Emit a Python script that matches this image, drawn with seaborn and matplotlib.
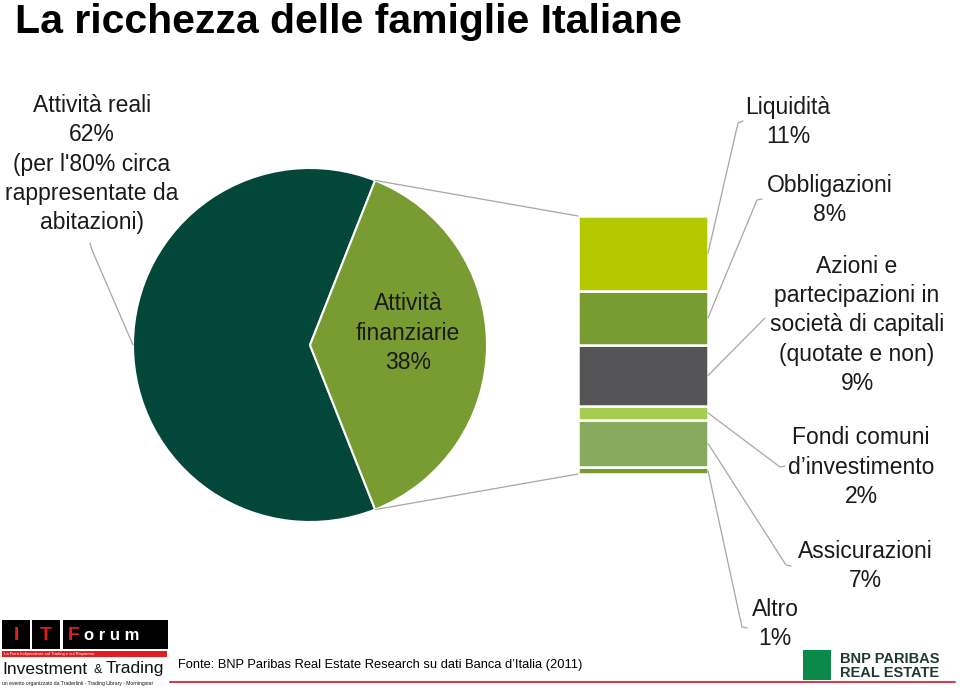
import numpy as np
import matplotlib
matplotlib.use("Agg")
import matplotlib.pyplot as plt
import seaborn as sns
from matplotlib.patches import ConnectionPatch, Rectangle
from matplotlib.lines import Line2D

sns.set_theme(style="white")
plt.rcParams['font.family'] = ['Liberation Sans', 'DejaVu Sans']

# pie: real vs financial assets (%)
pie_labels = ["Attività reali\n62%\n(per l'80% circa\nrappresentate da\nabitazioni)",
              "Attività\nfinanziarie\n38%"]
pie_values = [62, 38]
pie_colors = ["#03473A", "#789B32"]

# financial assets breakdown, bottom to top (%)
fin_labels = ["Altro\n1%",
              "Assicurazioni\n7%",
              "Fondi comuni\nd\u2019investimento\n2%",
              "Azioni e\npartecipazioni in\nsocietà di capitali\n(quotate e non)\n9%",
              "Obbligazioni\n8%",
              "Liquidità\n11%"]
fin_values = [1, 7, 2, 9, 8, 11]
fin_colors = ["#789B32", "#87AA5F", "#A5CD50", "#555557", "#789B32", "#B4C800"]

W, H = 960, 690
fig = plt.figure(figsize=(9.6, 6.9), dpi=100)
fig.patch.set_facecolor("white")


def fp(x, y):
    # pixel position (from top-left) -> figure fraction
    return x / W, 1 - y / H


line_col = "#A6A6A6"
lab_size = 16.5
lab_spacing = 1.36

# --- pie ---
ax_pie = fig.add_axes([133 / W, (H - 522) / H, 354 / W, 354 / H])
start = 360 * pie_values[1] / 100 / 2
ax_pie.pie(pie_values, colors=pie_colors, startangle=start, counterclock=True,
           wedgeprops=dict(edgecolor="white", linewidth=1.5))
ax_pie.set_xlim(-1, 1)
ax_pie.set_ylim(-1, 1)
ax_pie.axis("off")

# --- stacked bar ---
ax_bar = fig.add_axes([578 / W, (H - 474) / H, 130 / W, 258 / H])
bottoms = np.concatenate([[0], np.cumsum(fin_values)[:-1]])
ax_bar.bar(np.zeros(len(fin_values)), fin_values, bottom=bottoms, width=1.0,
           color=fin_colors, edgecolor="white", linewidth=1.8)
ax_bar.set_xlim(-0.5, 0.5)
ax_bar.set_ylim(0, sum(fin_values))
ax_bar.axis("off")

# lines pie -> bar
th = np.deg2rad(start)
for sgn, yb in [(1, sum(fin_values)), (-1, 0)]:
    con = ConnectionPatch(xyA=(np.cos(th), sgn * np.sin(th)), coordsA=ax_pie.transData,
                          xyB=(-0.5, yb), coordsB=ax_bar.transData,
                          color=line_col, lw=0.9)
    fig.add_artist(con)

fig.canvas.draw()
inv = fig.transFigure.inverted()


def data_to_fig(ax, pt):
    return inv.transform(ax.transData.transform(pt))


# bar labels: text centre px, and leader elbow / tick end px
fin_text_pos = [(775, 624), (865, 566), (861, 467), (857, 325), (830, 200), (788, 122)]
fin_elbows = [((742, 627), (747, 628)), ((786, 565), (791, 566)), ((780, 467), (785, 466)),
              ((763, 320), (765, 318)), ((757, 200), (762, 199)), ((738, 123), (743, 121))]

for i, (lab, v, b) in enumerate(zip(fin_labels, fin_values, bottoms)):
    x0, y0 = data_to_fig(ax_bar, (0.5, b + v / 2))
    e1, e2 = fin_elbows[i]
    xs = [x0, fp(*e1)[0], fp(*e2)[0]]
    ys = [y0, fp(*e1)[1], fp(*e2)[1]]
    fig.add_artist(Line2D(xs, ys, color=line_col, lw=0.9, transform=fig.transFigure))
    tx, ty = fp(*fin_text_pos[i])
    fig.text(tx, ty, lab, ha="center", va="center", ma="center",
             fontsize=lab_size, linespacing=lab_spacing, color="#1a1a1a")

# pie labels
x0, y0 = data_to_fig(ax_pie, (-1, 0))
fig.add_artist(Line2D([x0, fp(92, 250)[0], fp(90, 243)[0]],
                      [y0, fp(92, 250)[1], fp(90, 243)[1]],
                      color=line_col, lw=0.9, transform=fig.transFigure))
tx, ty = fp(92, 164)
fig.text(tx, ty, pie_labels[0], ha="center", va="center", ma="center",
         fontsize=lab_size, linespacing=lab_spacing, color="#1a1a1a")
tx, ty = fp(408, 333)
fig.text(tx, ty, pie_labels[1], ha="center", va="center", ma="center",
         fontsize=lab_size, linespacing=lab_spacing, color="#1a1a1a")

# title
tx, ty = fp(15, 33)
fig.text(tx, ty, "La ricchezza delle famiglie Italiane", ha="left", va="baseline",
         fontsize=29.5, fontweight="bold", color="black",
         family=["Liberation Sans Narrow", "Liberation Sans"])

# source
tx, ty = fp(178, 665)
fig.text(tx, ty, "Fonte: BNP Paribas Real Estate Research su dati Banca d\u2019Italia (2011)",
         ha="left", va="center", fontsize=9.3, color="black")

# red rule at the bottom
fig.add_artist(Line2D([fp(170, 0)[0], fp(955, 0)[0]], [fp(0, 682)[1]] * 2,
                      color="#D04050", lw=1.5, transform=fig.transFigure))


def rect_px(x, y, w, h, color):
    fig.add_artist(Rectangle(fp(x, y + h), w / W, h / H, transform=fig.transFigure,
                             facecolor=color, edgecolor="none"))


# IT Forum logo
rect_px(2, 620, 28, 29, "black")
rect_px(32, 620, 28, 29, "black")
rect_px(63, 620, 105, 29, "black")
for x, s, c in [(16, "I", "#E02020"), (46, "T", "#E02020")]:
    fig.text(*fp(x, 635), s, ha="center", va="center", fontsize=14, fontweight="bold", color=c)
fig.text(*fp(68, 635), "F", ha="left", va="center", fontsize=14, fontweight="bold", color="#E02020")
fig.text(*fp(84, 635), "o r u m", ha="left", va="center", fontsize=12, fontweight="bold", color="white")
rect_px(2, 651, 165, 6, "#E02020")
fig.text(*fp(4, 654), "La Fiera Indipendente sul Trading e sul Risparmio", ha="left", va="center",
         fontsize=3, color="white")
fig.text(*fp(2, 669), "Investment", ha="left", va="center", fontsize=12.5, color="#111111")
fig.text(*fp(93, 670), "&", ha="left", va="center", fontsize=9, color="#111111")
fig.text(*fp(106, 669), "Trading", ha="left", va="center", fontsize=12.5, color="#111111")
fig.text(*fp(2, 683), "un evento organizzato da Traderlink - Trading Library - Morningstar",
         ha="left", va="center", fontsize=3.6, color="#111111")

# BNP Paribas Real Estate logo
rect_px(803, 650, 28, 30, "#0A8A4A")
fig.text(*fp(840, 659), "BNP PARIBAS", ha="left", va="center", fontsize=10.5,
         fontweight="bold", color="#1E3A2E")
fig.text(*fp(840, 673), "REAL ESTATE", ha="left", va="center", fontsize=10.5,
         fontweight="bold", color="#1E3A2E")

fig.savefig("out.png", dpi=100, facecolor="white")
